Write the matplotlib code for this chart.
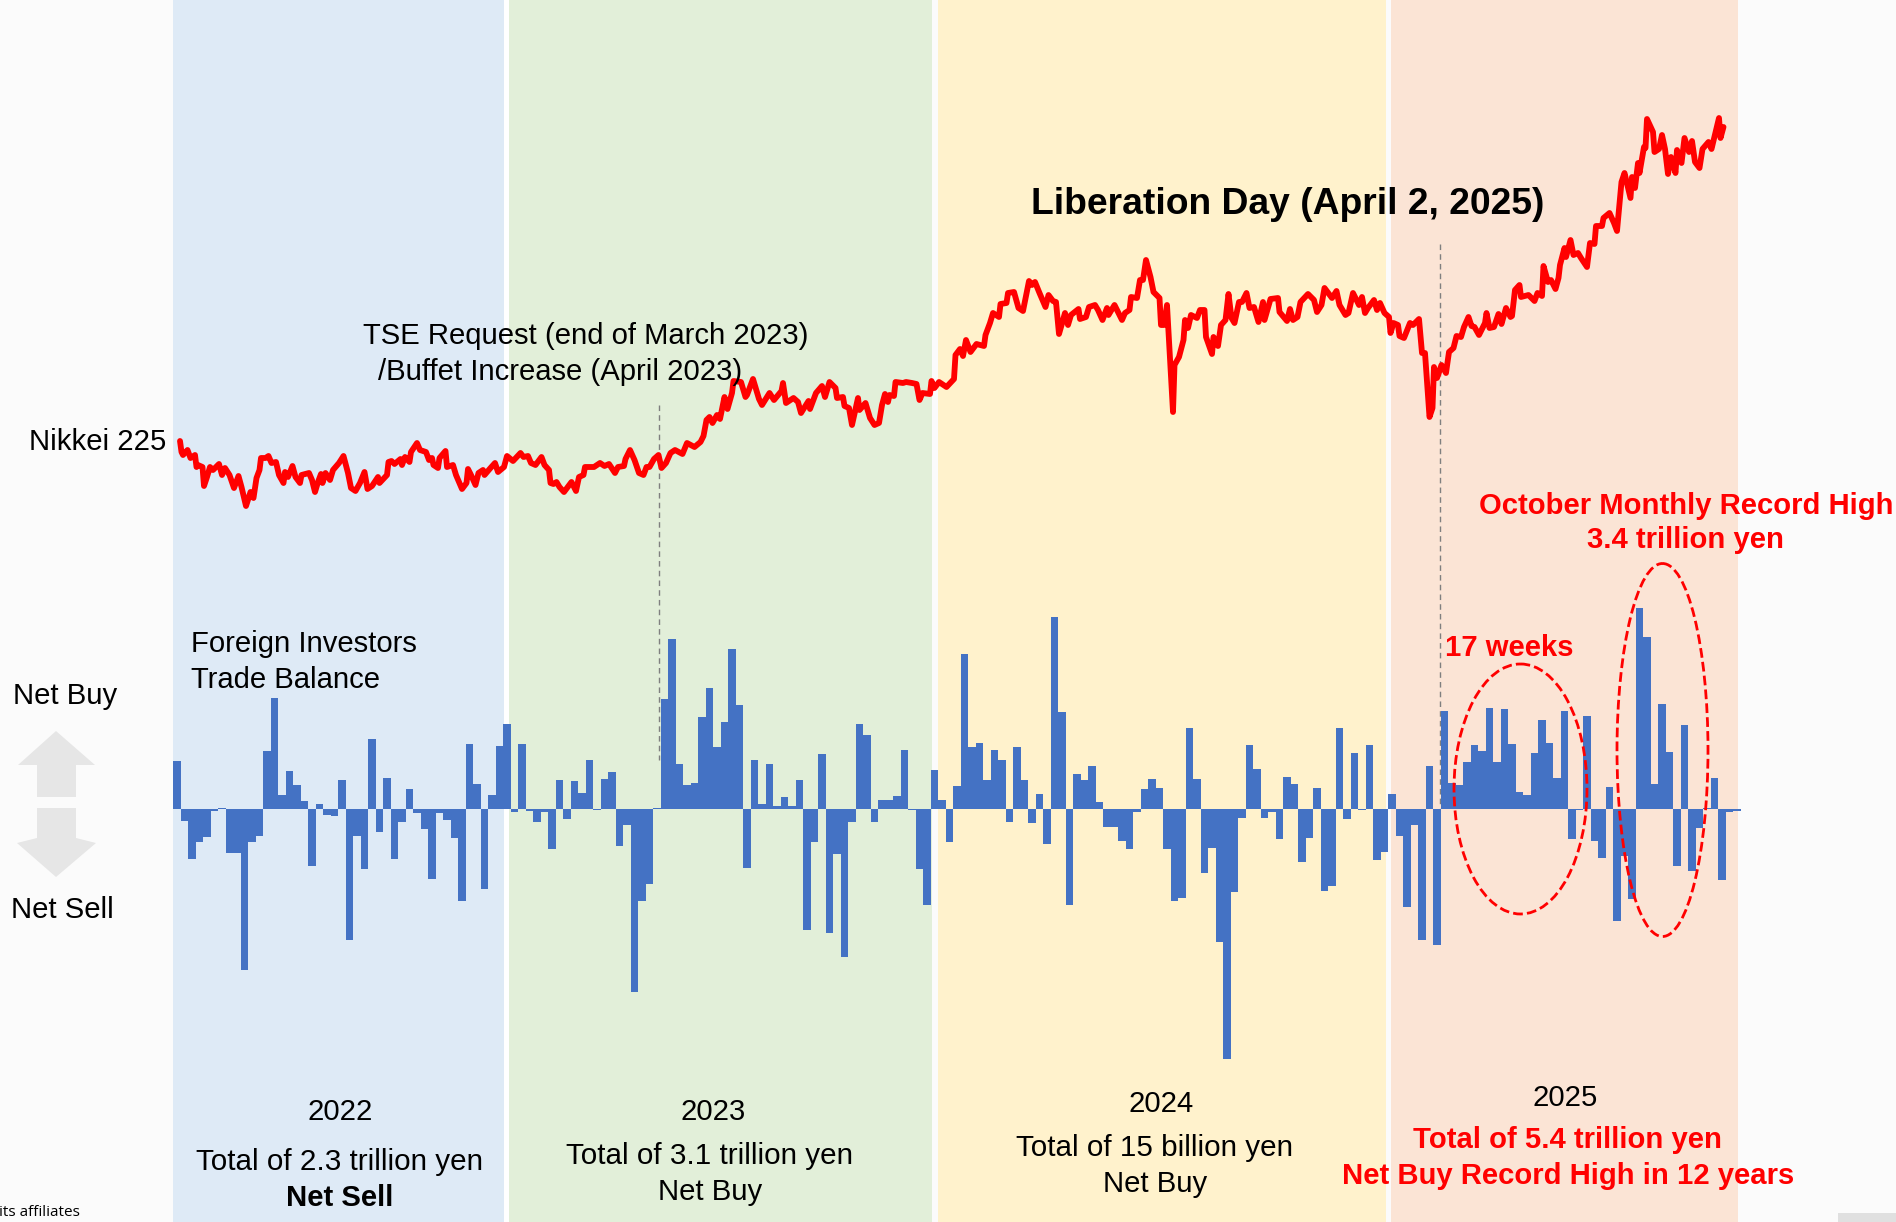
# Nikkei 225 vs foreign investors trade balance, 2022-2025

import matplotlib
matplotlib.use('Agg')
import matplotlib.pyplot as plt
from matplotlib.patches import Rectangle, Ellipse, Polygon

plt.rcParams['font.family'] = ['Liberation Sans', 'DejaVu Sans']

# Weekly trade balance, height
net_flow = [
    48, -12, -50, -33, -28, -2, 1, -44, -44, -161, -33, -27, 58, 111, 14, 38, 24, 8, -57, 5,
    -6, -7, 29, -131, -27, -60, 70, -23, 31, -50, -13, 20, -4, -20, -70, -4, -11, -29, -92, 65,
    25, -80, 14, 63, 85, -3, 65, -2, -13, -3, -40, 29, -10, 28, 16, 49, -1, 30, 37, -37,
    -16, -183, -92, -75, 1, 110, 170, 45, 24, 26, 92, 121, 62, 87, 160, 104, -59, 49, 5, 45,
    3, 12, 3, 29, -121, -33, 55, -124, -45, -148, -13, 85, 74, -13, 9, 9, 13, 59, -1, -60,
    -96, 39, 9, -33, 23, 155, 62, 66, 29, 59, 49, -13, 62, 29, -14, 15, -35, 192, 97, -96,
    35, 29, 43, 7, -18, -18, -32, -40, -3, 20, 30, 21, -40, -92, -89, 81, 30, -64, -39, -133,
    -250, -83, -9, 64, 40, -9, -3, -30, 32, 25, -53, -29, 21, -82, -77, 81, -10, 56, -0.5, 64,
    -51, -43, 15, -27, -98, -16, -131, 43, -136, 98, 26, 24, 47, 64, 58, 101, 47, 100, 65, 17,
    14, 56, 89, 66, 31, 98, -30, -1, 93, -32, -49, 22, -112, -47, -90, 201, 172, 25, 105, 57,
    -57, 84, -62, -19, 1, 31, -71, -3, -2,
]

# Nikkei 225 trace: trading day number and height
nikkei_day = [
    0, 1, 2, 5, 7, 10, 11, 12, 15, 16, 18, 20, 22, 26, 28, 30, 33, 36, 39, 41, 44, 47, 49, 51, 53,
    54, 57, 59, 61, 64, 66, 69, 70, 72, 75, 77, 80, 81, 86, 88, 90, 92, 94, 95, 97, 100, 102, 106,
    109, 112, 114, 117, 120, 123, 125, 128, 132, 133, 138, 139, 141, 143, 147, 148, 150, 153, 154,
    158, 160, 164, 166, 168, 169, 172, 173, 177, 178, 182, 184, 188, 191, 192, 194, 197, 199, 202,
    203, 207, 210, 212, 216, 218, 222, 227, 229, 232, 234, 237, 241, 243, 246, 247, 249, 251,
    253, 256, 261, 264, 266, 269, 270, 276, 280, 283, 286, 290, 292, 296, 297, 300, 303, 306, 309,
    311, 313, 316, 319, 321, 324, 327, 330, 335, 338, 343, 347, 349, 351, 353, 355, 358, 360, 363,
    365, 368, 369, 374, 377, 378, 382, 386, 388, 393, 396, 401, 402, 404, 409, 412, 414, 419, 420,
    424, 428, 430, 433, 437, 438, 442, 443, 446, 448, 452, 453, 457, 460, 463, 466, 468, 470, 472,
    473, 476, 477, 482, 484, 488, 491, 493, 495, 500, 501, 503, 506, 511, 516,
    517, 520, 522, 524, 527, 531, 536, 537, 540, 542, 546, 547, 551, 552, 556, 559, 562, 566, 568,
    570, 573, 577, 579, 582, 584, 586, 590, 592, 594, 599, 600, 604, 606, 610, 612, 615, 618, 619,
    623, 628, 630, 633, 634, 638, 640, 642, 644, 647, 649, 653, 654, 656, 658, 662, 663, 666, 669,
    670, 672, 674, 678, 680, 683, 684, 688, 689, 692, 694, 697, 699, 701, 703, 706, 708, 711, 713,
    716, 719, 722, 723, 727, 732, 733, 738, 740, 742, 745, 747, 752, 756, 758, 761, 763, 768, 771,
    773, 777, 779, 782, 786, 788, 790, 792, 796, 798,
    800, 803, 806, 807, 809, 812, 813, 816, 820, 822, 826, 828, 830, 833, 835, 836, 838, 841, 844,
    846, 849, 851, 854, 856, 859, 861, 863, 866, 870, 871, 873, 876, 879, 881, 884, 887, 888, 890,
    893, 894, 899, 903, 905, 908, 909, 912, 914, 917, 919, 920, 923, 924, 927, 929, 932, 934, 938,
    940, 943, 944, 948, 949, 953, 956, 958, 961, 963, 967, 968, 970, 972, 973, 976, 977, 978, 982,
    983, 986, 988, 990, 992, 994, 997, 998, 1001, 1003, 1006, 1008, 1010, 1013, 1015, 1019, 1021,
    1026, 1027, 1029,
]
nikkei_level = [
    159, 148, 145, 150, 142, 145, 133, 135, 133, 114, 123, 133, 130, 136, 125, 132, 125, 112, 124, 113, 94, 108, 102, 122, 130,
    142, 142, 144, 137, 138, 125, 117, 128, 123, 134, 123, 117, 125, 127, 120, 108, 118, 126, 117, 127, 120, 130, 137,
    144, 127, 112, 109, 117, 128, 111, 114, 123, 117, 125, 138, 139, 136, 141, 135, 143, 138, 148,
    157, 150, 148, 140, 142, 135, 132, 142, 149, 133, 135, 125, 111, 117, 131, 125, 115, 127, 130,
    125, 132, 137, 128, 133, 144, 139, 147, 143, 144, 137, 135, 143, 135, 130, 117, 116, 118,
    113, 108, 118, 109, 123, 125, 133, 133, 137, 134, 136, 127, 133, 134, 141, 150, 140, 127, 125,
    133, 133, 141, 145, 132, 137, 147, 150, 146, 157, 153, 158, 164, 180, 183, 177, 185, 181, 203,
    191, 207, 219, 218, 203, 205, 221, 201, 195, 207, 200, 209, 217, 197, 202, 198, 187, 199, 191,
    207, 214, 203, 218, 212, 202, 203, 194, 192, 175, 202, 190, 197, 182, 175, 177, 195, 206, 198,
    205, 204, 218, 217, 218, 217, 216, 200, 207, 206, 219, 212, 218, 213, 221,
    245, 251, 244, 260, 248, 256, 254, 265, 277, 287, 283, 296, 297, 307, 308, 292, 289, 319, 315,
    318, 307, 293, 305, 299, 298, 266, 287, 275, 285, 291, 281, 283, 293, 295, 290, 280, 292, 285,
    295, 280, 287, 290, 303, 302, 320, 320, 340, 323, 308, 302, 275, 275, 295, 188, 235, 243, 260,
    280, 272, 285, 282, 290, 290, 263, 246, 263, 254, 275, 280, 306, 282, 277, 298, 298, 307, 292,
    293, 278, 298, 280, 301, 302, 288, 279, 291, 280, 283, 298, 306, 300, 288, 295, 312, 302, 309,
    295, 285, 287, 307, 295, 303, 287, 292, 300, 290,
    297, 287, 283, 267, 277, 275, 264, 262, 277, 275, 281, 247, 247, 183, 192, 233, 222, 235, 227,
    248, 252, 264, 263, 273, 283, 274, 273, 265, 277, 287, 272, 273, 286, 276, 292, 283, 284, 310,
    315, 303, 305, 299, 307, 304, 334, 318, 320, 311, 322, 335, 352, 343, 360, 345, 347, 342, 333,
    357, 356, 374, 374, 382, 387, 377, 369, 418, 427, 402, 423, 412, 437, 427, 453, 452, 481, 468,
    448, 451, 465, 451, 426, 443, 427, 450, 437, 462, 448, 459, 438, 432, 451, 458, 451,
    482, 462, 473,
]

fig = plt.figure(figsize=(18.96, 12.22), dpi=100, facecolor='#FBFBFB')


def pixel_axes(order):
    ax = fig.add_axes([0, 0, 1, 1], zorder=order)
    ax.set_xlim(0, 1896)
    ax.set_ylim(1222, 0)
    ax.axis('off')
    return ax


# Year bands and the vertical markers go behind the data
back = pixel_axes(0)
back.add_patch(Rectangle((173, 0), 331, 1222, color='#DEEAF6', lw=0))
back.add_patch(Rectangle((509, 0), 423, 1222, color='#E2EFD9', lw=0))
back.add_patch(Rectangle((938, 0), 448, 1222, color='#FFF2CC', lw=0))
back.add_patch(Rectangle((1391, 0), 347, 1222, color='#FBE4D5', lw=0))
back.add_patch(Rectangle((504, 0), 5, 1222, color='white', lw=0))
back.add_patch(Rectangle((1838, 1213), 58, 9, color='#E0E0E0', lw=0))
back.plot([659, 659], [405, 760], color='#7F7F7F', lw=1, ls=(0, (4, 3)))
back.plot([1440, 1440], [244, 808], color='#7F7F7F', lw=1, ls=(0, (4, 3)))

# Bars, one unit of height is one pixel
ax_bar = fig.add_axes([0, 0, 1, 1], zorder=1)
ax_bar.patch.set_alpha(0)
ax_bar.set_xlim(-173.3 / 7.5, (1896 - 173.3) / 7.5)
ax_bar.set_ylim(-413, 809)
ax_bar.axis('off')
ax_bar.bar(range(len(net_flow)), net_flow, width=1.0, align='edge', color='#4472C4', lw=0)

# Nikkei line
ax_line = fig.add_axes([0, 0, 1, 1], zorder=2)
ax_line.patch.set_alpha(0)
ax_line.set_xlim(-120, (1896 - 180) / 1.5)
ax_line.set_ylim(-622, 600)
ax_line.axis('off')
ax_line.plot(nikkei_day, nikkei_level, color='#FF0000', lw=4.2, solid_joinstyle='round',
             solid_capstyle='round')

# Notes on top
top = pixel_axes(3)
top.add_patch(Ellipse((1520.5, 789), 133, 250, fill=False, ec='#FF0000', lw=2, ls=(0, (3.5, 1.5))))
top.add_patch(Ellipse((1662.5, 750), 91, 373, fill=False, ec='#FF0000', lw=2, ls=(0, (3.5, 1.5))))
top.add_patch(Polygon([(56, 731), (95, 765), (76, 765), (76, 797), (37, 797), (37, 765), (18, 765)],
                      color='#E6E6E6', lw=0))
top.add_patch(Polygon([(37, 808), (76, 808), (76, 838), (96, 843), (56, 877), (17, 843), (37, 838)],
                      color='#E6E6E6', lw=0))


def label(x, y, s, size=21.1, ha='center', **kw):
    top.text(x, y + 2.5, s, fontsize=size, ha=ha, va='center', color=kw.pop('color', 'black'), **kw)


label(29, 439, 'Nikkei 225', ha='left')
label(13, 693, 'Net Buy', ha='left')
label(11, 907, 'Net Sell', ha='left')
label(191, 641, 'Foreign Investors', ha='left')
label(191, 677, 'Trade Balance', ha='left')
label(363, 334, 'TSE Request (end of March 2023)', ha='left')
label(378, 369, '/Buffet Increase (April 2023)', ha='left')
label(1288, 202, 'Liberation Day (April 2, 2025)', size=26.8, fontweight='bold')
label(1686, 503, 'October Monthly Record High', color='#FF0000', fontweight='bold')
label(1686, 538, '3.4 trillion yen', color='#FF0000', fontweight='bold')
label(1445, 646, '17 weeks', ha='left', color='#FF0000', fontweight='bold')

label(340, 1110, '2022')
label(340, 1160, 'Total of 2.3 trillion yen', size=21.3)
label(340, 1195, 'Net Sell', fontweight='bold')
label(713, 1110, '2023')
label(710, 1154, 'Total of 3.1 trillion yen', size=21.3)
label(710, 1189, 'Net Buy')
label(1161, 1102, '2024')
label(1155, 1146, 'Total of 15 billion yen', size=21.3)
label(1155, 1181, 'Net Buy')
label(1565, 1096, '2025')
label(1568, 1138, 'Total of 5.4 trillion yen', color='#FF0000', fontweight='bold')
label(1568, 1173, 'Net Buy Record High in 12 years', color='#FF0000', fontweight='bold')
top.text(-1, 1212, 'its affiliates', fontsize=11, family='Open Sans', ha='left', va='center')

fig.savefig('out.png', dpi=100, facecolor=fig.get_facecolor())
